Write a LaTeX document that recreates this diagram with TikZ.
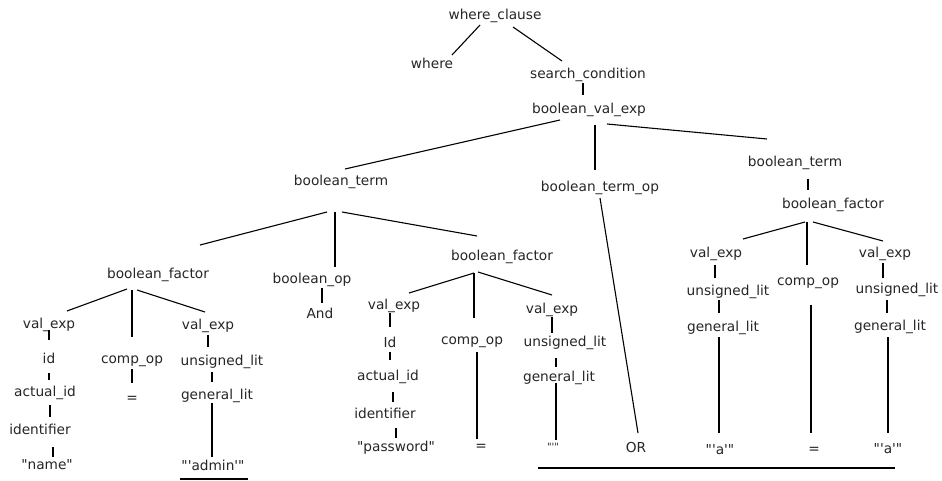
\documentclass[tikz,border=0pt]{standalone}
\usepackage{fontspec}
\setmainfont{DejaVu Sans}
\usetikzlibrary{calc}

\def\labelColor{black!85}
\newcommand{\dquote}{\textquotedbl}
\newcommand{\squote}{\textquotesingle}
% branch of the parse tree, from a point near one node to a point near another
\newcommand{\treelink}[4]{\draw[branch] ($(#1)+(#2)$) -- ($(#3)+(#4)$);}

\begin{document}
\begin{tikzpicture}[x=1pt,y=-1pt,
    lab/.style={inner sep=0pt, text=\labelColor, font=\fontsize{13.7}{16}\selectfont},
    branch/.style={line width=1.1pt, black}]
    % Define parameters
    \def\xmax{942}
    \def\ymax{481}

    \fill[white] (0,0) rectangle (\xmax,\ymax);
    \useasboundingbox (0,0) rectangle (\xmax,\ymax);

    % top of the tree
    \node[lab] (wc)  at (495,16)  {where\_clause};
    \node[lab] (wh)  at (432,63)  {where};
    \node[lab] (sc)  at (588,75)  {search\_condition};
    \node[lab] (bve) at (589,110) {boolean\_val\_exp};
    \node[lab] (btL) at (341,182) {boolean\_term};
    \node[lab] (bto) at (600,188) {boolean\_term\_op};
    \node[lab] (btR) at (795,163) {boolean\_term};
    \node[lab] (bfL) at (158,275) {boolean\_factor};
    \node[lab] (bop) at (312,280) {boolean\_op};
    \node[lab] (and) at (320,313) {And};
    \node[lab] (bfM) at (502,257) {boolean\_factor};
    \node[lab] (bfR) at (833,205) {boolean\_factor};
    \node[lab] (or)  at (636,448) {OR};

    % first comparison
    \node[lab] (ve1)  at (49,325)  {val\_exp};
    \node[lab] (id1)  at (49,358)  {id};
    \node[lab] (aid1) at (45,393)  {actual\_id};
    \node[lab] (idf1) at (40,429)  {identifier};
    \node[lab] (nm)   at (47,465)  {\dquote name\dquote};
    \node[lab] (co1)  at (132,361) {comp\_op};
    \node[lab] (eq1)  at (132,399) {=};
    \node[lab] (ve2)  at (208,326) {val\_exp};
    \node[lab] (ul2)  at (222,362) {unsigned\_lit};
    \node[lab] (gl2)  at (217,396) {general\_lit};
    \node[lab] (adm)  at (213,465) {\dquote\squote admin\squote\dquote};

    % second comparison
    \node[lab] (ve3)  at (394,306) {val\_exp};
    \node[lab] (id3)  at (390,342) {Id};
    \node[lab] (aid3) at (388,377) {actual\_id};
    \node[lab] (idf3) at (385,413) {identifier};
    \node[lab] (pw)   at (396,448) {\dquote password\dquote};
    \node[lab] (co2)  at (472,342) {comp\_op};
    \node[lab] (eq2)  at (481,447) {=};
    \node[lab] (ve4)  at (552,310) {val\_exp};
    \node[lab] (ul4)  at (565,343) {unsigned\_lit};
    \node[lab] (gl4)  at (559,378) {general\_lit};
    \node[lab, font=\fontsize{10}{12}\selectfont] (emp) at (553,447) {\dquote\squote\dquote};

    % third comparison
    \node[lab] (ve5)  at (716,254) {val\_exp};
    \node[lab] (ul5)  at (728,292) {unsigned\_lit};
    \node[lab] (gl5)  at (723,328) {general\_lit};
    \node[lab] (a5)   at (720,450) {\dquote\squote a\squote\dquote};
    \node[lab] (co3)  at (808,283) {comp\_op};
    \node[lab] (eq3)  at (814,450) {=};
    \node[lab] (ve6)  at (885,254) {val\_exp};
    \node[lab] (ul6)  at (897,290) {unsigned\_lit};
    \node[lab] (gl6)  at (890,327) {general\_lit};
    \node[lab] (a6)   at (888,449) {\dquote\squote a\squote\dquote};

    % branches
    \treelink{wc}{-15,9}{wh}{20,-8}
    \treelink{wc}{18,11}{sc}{-26,-14}
    \treelink{sc}{-5,8}{bve}{-6,-15}
    \treelink{bve}{-29,10}{btL}{4,-13}
    \treelink{bve}{6,15}{bto}{-5,-18}
    \treelink{bve}{18,14}{btR}{-28,-24}
    \treelink{btL}{-14,30}{bfL}{42,-30}
    \treelink{btL}{-6,30}{bop}{23,-13}
    \treelink{btL}{1,30}{bfM}{-25,-21}
    \treelink{bto}{0,10}{or}{2,-15}
    \treelink{btR}{13,16}{bfR}{-25,-15}
    \treelink{bop}{10,8}{and}{2,-10}

    \treelink{bfL}{-31,14}{ve1}{18,-14}
    \treelink{bfL}{-26,15}{co1}{0,-24}
    \treelink{bfL}{-21,15}{ve2}{-3,-14}
    \treelink{ve1}{0,5}{id1}{0,-18}
    \treelink{id1}{0,15}{aid1}{4,-13}
    \treelink{aid1}{5,12}{idf1}{10,-12}
    \treelink{idf1}{13,18}{nm}{6,-8}
    \treelink{co1}{0,8}{eq1}{0,-16}
    \treelink{ve2}{0,9}{ul2}{-14,-15}
    \treelink{ul2}{-10,10}{gl2}{-5,-14}
    \treelink{gl2}{-5,7}{adm}{-1,-8}

    \treelink{bfM}{-28,16}{ve3}{15,-13}
    \treelink{bfM}{-28,16}{co2}{2,-24}
    \treelink{bfM}{-24,15}{ve4}{0,-15}
    \treelink{ve3}{-4,7}{id3}{0,-15}
    \treelink{id3}{0,10}{aid3}{2,-17}
    \treelink{aid3}{5,15}{idf3}{8,-11}
    \treelink{idf3}{11,15}{pw}{0,-10}
    \treelink{co2}{5,10}{eq2}{-4,-8}
    \treelink{ve4}{0,7}{ul4}{-13,-10}
    \treelink{ul4}{-9,15}{gl4}{-3,-11}
    \treelink{gl4}{-3,5}{emp}{3,-7}

    \treelink{bfR}{-28,17}{ve5}{27,-15}
    \treelink{bfR}{-26,17}{co3}{-1,-18}
    \treelink{bfR}{-20,17}{ve6}{-2,-13}
    \treelink{ve5}{-1,11}{ul5}{-13,-14}
    \treelink{ul5}{-9,8}{gl5}{-4,-15}
    \treelink{gl5}{-4,9}{a5}{-1,-17}
    \treelink{co3}{3,22}{eq3}{-3,-17}
    \treelink{ve6}{-2,9}{ul6}{-14,-12}
    \treelink{ul6}{-10,10}{gl6}{-3,-14}
    \treelink{gl6}{-2,10}{a6}{0,-16}

    % underlines
    \draw[branch] ($(adm)+(-33,14)$) -- ($(adm)+(35,14)$);
    \draw[branch] ($(emp)+(-15,21)$) -- ($(a6)+(7,19)$);
\end{tikzpicture}
\end{document}
